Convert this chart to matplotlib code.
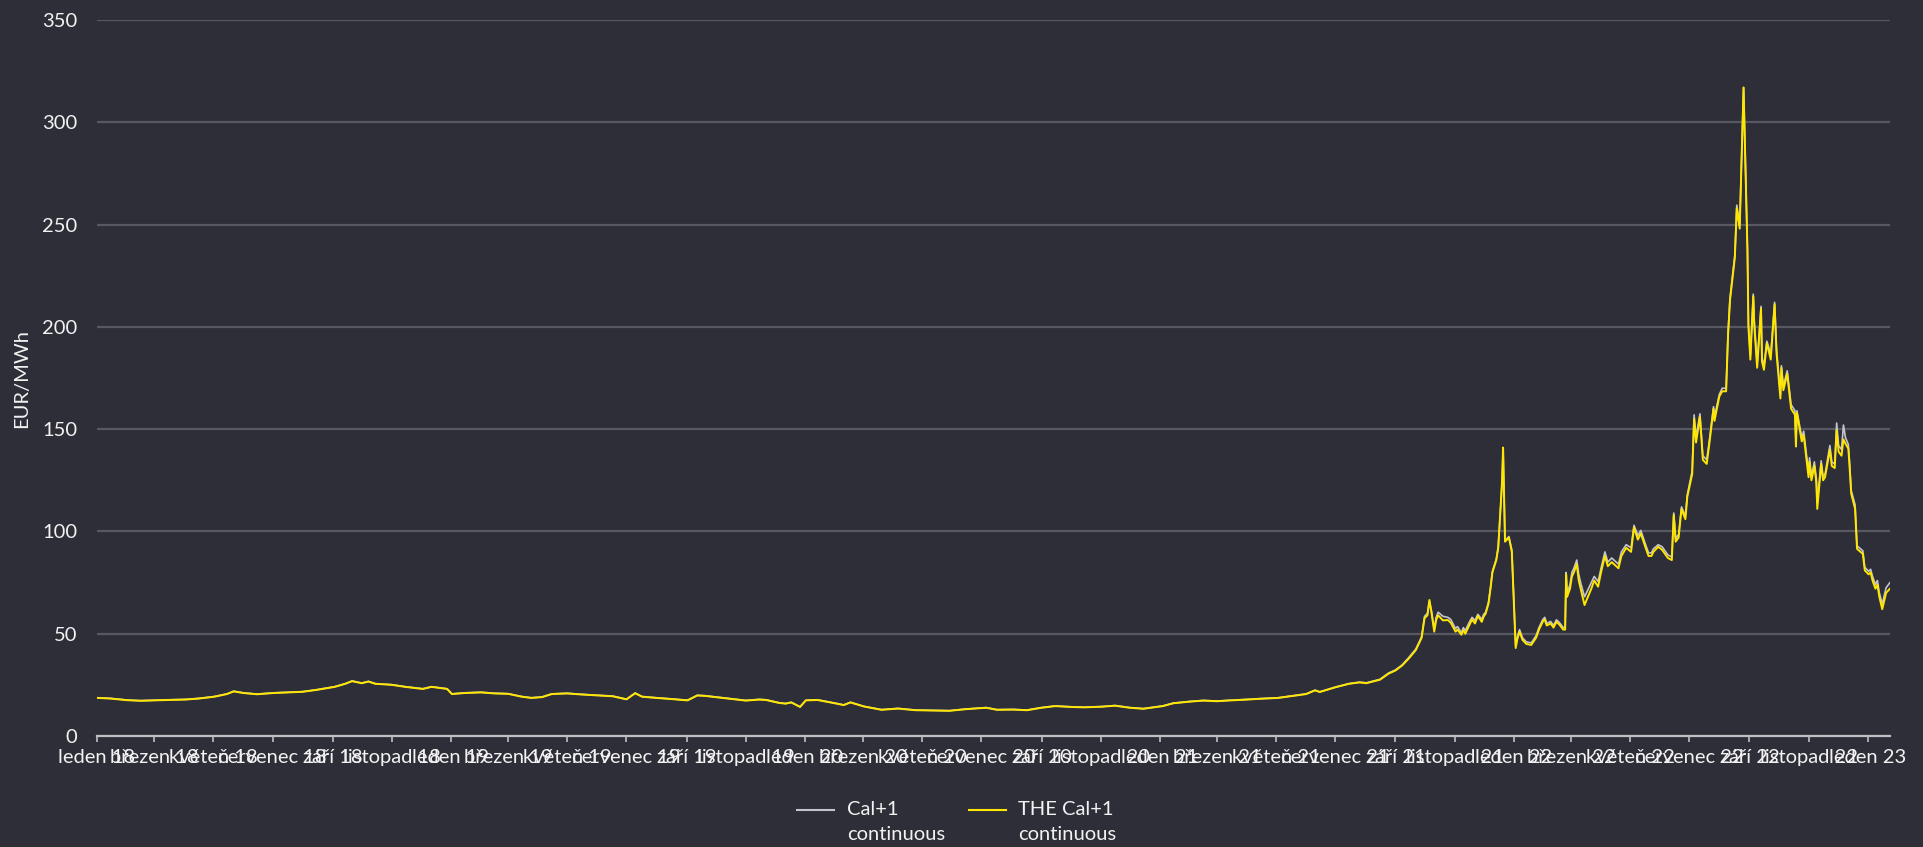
import pandas as pd
import matplotlib.pyplot as plt
import matplotlib.dates as mdates
from matplotlib.lines import Line2D
from matplotlib.ticker import FuncFormatter

plt.rcParams['font.family'] = ['Lato', 'DejaVu Sans']

dates = [
    # 2018
    '2018-01-02', '2018-01-15', '2018-02-01', '2018-02-15', '2018-03-01', '2018-03-15',
    '2018-04-02', '2018-04-16', '2018-05-02', '2018-05-15', '2018-05-22', '2018-06-01',
    '2018-06-15', '2018-07-02', '2018-07-16', '2018-08-01', '2018-08-15', '2018-09-03',
    '2018-09-14', '2018-09-21', '2018-10-01', '2018-10-08', '2018-10-15', '2018-11-01',
    '2018-11-15', '2018-12-03', '2018-12-12', '2018-12-20', '2018-12-28',
    # 2019
    '2019-01-02', '2019-01-15', '2019-02-01', '2019-02-15', '2019-03-01', '2019-03-15',
    '2019-03-25', '2019-04-05', '2019-04-15', '2019-05-01', '2019-05-15', '2019-06-03',
    '2019-06-17', '2019-07-01', '2019-07-10', '2019-07-17', '2019-08-01', '2019-08-15',
    '2019-09-02', '2019-09-12', '2019-09-20', '2019-10-01', '2019-10-11', '2019-11-01',
    '2019-11-15', '2019-11-22', '2019-12-05', '2019-12-12', '2019-12-18', '2019-12-27',
    # 2020
    '2020-01-02', '2020-01-14', '2020-02-03', '2020-02-10', '2020-02-17', '2020-03-02',
    '2020-03-20', '2020-04-06', '2020-04-24', '2020-05-15', '2020-05-29', '2020-06-15',
    '2020-07-06', '2020-07-17', '2020-08-03', '2020-08-17', '2020-09-01', '2020-09-15',
    '2020-10-01', '2020-10-15', '2020-11-02', '2020-11-16', '2020-12-01', '2020-12-15',
    # 2021
    '2021-01-04', '2021-01-15', '2021-02-01', '2021-02-15', '2021-03-01', '2021-03-15',
    '2021-04-01', '2021-04-15', '2021-05-03', '2021-05-17', '2021-06-01', '2021-06-10',
    '2021-06-15', '2021-07-01', '2021-07-15', '2021-07-26', '2021-08-02', '2021-08-16',
    '2021-08-25', '2021-09-01', '2021-09-08', '2021-09-15', '2021-09-22', '2021-09-28',
    '2021-10-01', '2021-10-04', '2021-10-06', '2021-10-08', '2021-10-11', '2021-10-13',
    '2021-10-15', '2021-10-20', '2021-10-25', '2021-10-28', '2021-11-02', '2021-11-04',
    '2021-11-08', '2021-11-10', '2021-11-12', '2021-11-16', '2021-11-19', '2021-11-22',
    '2021-11-25', '2021-11-29', '2021-12-01', '2021-12-03', '2021-12-06', '2021-12-08',
    '2021-12-10', '2021-12-14', '2021-12-16', '2021-12-17', '2021-12-20', '2021-12-21',
    '2021-12-22', '2021-12-23', '2021-12-27', '2021-12-30',
    # 2022
    '2022-01-03', '2022-01-05', '2022-01-07', '2022-01-10', '2022-01-14', '2022-01-19',
    '2022-01-24', '2022-01-27', '2022-01-31', '2022-02-02', '2022-02-04', '2022-02-08',
    '2022-02-11', '2022-02-14', '2022-02-17', '2022-02-21', '2022-02-23', '2022-02-24',
    '2022-02-25', '2022-02-28', '2022-03-02', '2022-03-04', '2022-03-07', '2022-03-09',
    '2022-03-11', '2022-03-15', '2022-03-18', '2022-03-22', '2022-03-25', '2022-03-29',
    '2022-04-01', '2022-04-05', '2022-04-08', '2022-04-12', '2022-04-19', '2022-04-22',
    '2022-04-27', '2022-05-02', '2022-05-05', '2022-05-09', '2022-05-12', '2022-05-17',
    '2022-05-20', '2022-05-23', '2022-05-25', '2022-05-30', '2022-06-03', '2022-06-09',
    '2022-06-13', '2022-06-15', '2022-06-17', '2022-06-20', '2022-06-23', '2022-06-27',
    '2022-06-29', '2022-07-04', '2022-07-06', '2022-07-08', '2022-07-12', '2022-07-15',
    '2022-07-19', '2022-07-22', '2022-07-26', '2022-07-27', '2022-08-01', '2022-08-04',
    '2022-08-08', '2022-08-10', '2022-08-12', '2022-08-17', '2022-08-19', '2022-08-22',
    '2022-08-26', '2022-08-30', '2022-08-31', '2022-09-02', '2022-09-05', '2022-09-06',
    '2022-09-09', '2022-09-13', '2022-09-14', '2022-09-16', '2022-09-19', '2022-09-21',
    '2022-09-23', '2022-09-27', '2022-09-29', '2022-10-03', '2022-10-04', '2022-10-06',
    '2022-10-10', '2022-10-14', '2022-10-18', '2022-10-19', '2022-10-20', '2022-10-25',
    '2022-10-27', '2022-11-01', '2022-11-02', '2022-11-04', '2022-11-07', '2022-11-09',
    '2022-11-10', '2022-11-14', '2022-11-16', '2022-11-18', '2022-11-23', '2022-11-25',
    '2022-11-28', '2022-11-30', '2022-12-02', '2022-12-05', '2022-12-07', '2022-12-09',
    '2022-12-12', '2022-12-13', '2022-12-15', '2022-12-19', '2022-12-21', '2022-12-27',
    '2022-12-29',
    # 2023
    '2023-01-02', '2023-01-04', '2023-01-06', '2023-01-09', '2023-01-11', '2023-01-13',
    '2023-01-16', '2023-01-18', '2023-01-20', '2023-01-24',
]

the_cal1 = [
    # 2018
    18.6, 18.3, 17.5, 17.2, 17.4, 17.6, 17.8, 18.3, 19.2, 20.5, 21.8, 21.0,
    20.4, 21.0, 21.3, 21.6, 22.5, 24.0, 25.5, 26.8, 25.8, 26.6, 25.5, 25.0,
    24.0, 23.0, 24.0, 23.5, 23.0,
    # 2019
    20.5, 21.0, 21.3, 20.8, 20.6, 19.2, 18.6, 19.0, 20.5, 20.8, 20.3, 19.8,
    19.4, 17.9, 20.9, 19.2, 18.6, 18.1, 17.4, 19.8, 19.6, 19.0, 18.4, 17.3,
    17.8, 17.6, 16.2, 15.8, 16.4, 14.2,
    # 2020
    17.4, 17.6, 15.8, 15.1, 16.4, 14.4, 12.8, 13.4, 12.6, 12.4, 12.3, 13.1,
    13.8, 12.8, 12.9, 12.6, 13.8, 14.6, 14.2, 14.0, 14.3, 14.8, 13.8, 13.3,
    # 2021
    14.6, 16.0, 16.8, 17.3, 17.0, 17.4, 17.8, 18.2, 18.6, 19.5, 20.5, 22.3,
    21.5, 23.8, 25.5, 26.2, 25.8, 27.5, 30.5, 32.0, 34.5, 38.0, 42.0, 48.0,
    57.6, 59.0, 66.5, 60.8, 51.0, 56.7, 59.0, 56.5, 56.7, 55.4, 51.0, 52.0,
    49.5, 51.8, 50.0, 54.0, 57.0, 55.0, 58.7, 55.8, 58.4, 59.8, 64.8, 72.0,
    80.0, 86.0, 92.0, 100.0, 125.0, 141.0, 118.0, 95.0, 97.0, 90.0,
    # 2022
    43.0, 48.0, 51.0, 47.0, 45.0, 44.5, 48.0, 52.0, 56.0, 57.0, 54.0, 55.0,
    53.0, 55.8, 54.5, 52.0, 52.0, 79.0, 68.0, 72.0, 78.0, 80.0, 84.0, 76.0,
    72.0, 64.0, 67.5, 72.0, 76.0, 73.0, 80.0, 88.0, 83.0, 85.0, 82.0, 88.0,
    92.0, 90.0, 102.0, 96.0, 99.0, 92.0, 88.0, 88.0, 90.0, 92.5, 91.0, 87.0,
    86.0, 108.0, 95.0, 97.0, 111.0, 106.0, 117.0, 128.0, 155.0, 143.5, 156.0, 135.0,
    133.0, 144.0, 160.0, 154.0, 166.0, 168.5, 168.5, 196.0, 213.0, 234.0, 258.0, 248.0,
    317.0, 237.0, 200.0, 184.0, 215.0, 201.0, 180.0, 209.0, 183.0, 179.0, 192.0, 188.0,
    184.0, 211.0, 187.0, 165.0, 180.0, 169.0, 177.0, 160.0, 157.0, 141.5, 158.0, 144.0,
    147.0, 126.5, 134.0, 125.0, 132.0, 124.0, 111.0, 133.0, 125.0, 126.5, 140.0, 132.0,
    131.0, 149.5, 139.0, 137.0, 145.0, 143.0, 140.5, 134.0, 118.5, 111.0, 91.5, 89.0,
    81.0,
    # 2023
    79.0, 80.0, 76.0, 72.0, 74.0, 68.0, 62.0, 66.0, 70.0, 72.0,
]

cal1 = [
    # 2018
    18.7, 18.4, 17.6, 17.3, 17.5, 17.7, 17.9, 18.4, 19.3, 20.6, 21.9, 21.1,
    20.5, 21.1, 21.4, 21.7, 22.6, 24.1, 25.6, 26.9, 25.9, 26.7, 25.6, 25.1,
    24.1, 23.1, 24.1, 23.6, 23.1,
    # 2019
    20.6, 21.1, 21.4, 20.9, 20.7, 19.3, 18.7, 19.1, 20.6, 20.9, 20.4, 19.9,
    19.5, 18.0, 21.0, 19.3, 18.7, 18.2, 17.5, 19.9, 19.7, 19.1, 18.5, 17.4,
    17.9, 17.7, 16.3, 15.9, 16.5, 14.3,
    # 2020
    17.5, 17.7, 15.9, 15.2, 16.5, 14.5, 12.9, 13.5, 12.7, 12.5, 12.4, 13.2,
    13.9, 12.9, 13.0, 12.7, 13.9, 14.7, 14.3, 14.1, 14.4, 14.9, 13.9, 13.4,
    # 2021
    14.7, 16.1, 16.9, 17.4, 17.1, 17.5, 17.9, 18.3, 18.7, 19.6, 20.6, 22.4,
    21.6, 23.9, 25.6, 26.3, 26.0, 27.7, 30.8, 32.3, 34.8, 38.5, 42.5, 48.5,
    58.5, 60.0, 66.0, 61.5, 52.5, 58.0, 60.5, 58.5, 58.0, 57.0, 52.5, 53.5,
    50.5, 53.0, 51.5, 55.5, 58.0, 56.5, 59.5, 57.0, 59.5, 60.5, 65.5, 72.5,
    80.5, 86.5, 92.5, 100.5, 124.0, 140.0, 117.0, 95.5, 97.5, 91.0,
    # 2022
    44.0, 49.0, 52.0, 48.0, 46.0, 45.5, 49.0, 53.0, 57.0, 58.0, 55.0, 56.0,
    54.0, 56.8, 55.5, 53.0, 53.0, 80.0, 70.0, 74.0, 80.0, 82.0, 86.0, 79.0,
    75.0, 68.0, 71.0, 75.0, 78.0, 75.5, 82.0, 90.0, 85.0, 87.0, 84.0, 90.0,
    93.5, 92.0, 103.0, 98.0, 100.5, 93.5, 89.5, 89.5, 91.5, 93.5, 92.5, 88.5,
    87.5, 109.0, 96.5, 98.5, 112.0, 107.5, 118.0, 129.5, 157.0, 146.0, 157.5, 137.0,
    135.0, 145.5, 161.0, 156.0, 167.0, 170.0, 170.0, 197.0, 214.0, 235.0, 259.5, 250.0,
    317.0, 238.0, 202.0, 186.0, 216.0, 203.0, 182.0, 210.0, 185.0, 181.0, 193.0, 190.0,
    186.0, 212.0, 189.0, 167.0, 181.0, 171.0, 178.5, 162.0, 159.0, 144.0, 159.0, 146.0,
    149.0, 129.0, 136.0, 127.0, 134.0, 126.0, 114.0, 134.5, 127.0, 128.0, 142.0, 134.0,
    133.0, 153.0, 142.0, 140.0, 152.0, 146.0, 142.5, 136.0, 120.0, 113.0, 93.0, 90.5,
    82.5,
    # 2023
    80.5, 81.5, 78.0, 74.0, 76.0, 70.0, 64.5, 68.5, 72.5, 75.0,
]

month_names = ['leden', 'únor', 'březen', 'duben', 'květen', 'červen',
               'červenec', 'srpen', 'září', 'říjen', 'listopad', 'prosinec']

series_labels = ['Cal+1\ncontinuous', 'THE Cal+1\ncontinuous']

BG = '#2E2E38'
TXT = '#F2F2F2'
GREY = '#C4C4CD'
YELLOW = '#FFE600'

x = pd.to_datetime(dates)

fig = plt.figure(figsize=(19.23, 8.47), dpi=100)
fig.patch.set_facecolor(BG)
ax = fig.add_axes([97 / 1923, 1 - 736 / 847, (1890 - 97) / 1923, (736 - 20) / 847])
ax.set_facecolor(BG)

ax.plot(x, cal1, color=GREY, lw=1.2, zorder=3)
ax.plot(x, the_cal1, color=YELLOW, lw=1.4, zorder=4)

ax.set_ylim(0, 350)
ax.set_yticks(range(0, 351, 50))
ax.set_xlim(pd.Timestamp('2018-01-01'), pd.Timestamp('2023-01-24'))

ax.xaxis.set_major_locator(mdates.MonthLocator(bymonth=[1, 3, 5, 7, 9, 11]))


def fmt(v, pos):
    d = mdates.num2date(v)
    return f'{month_names[d.month - 1]} {d.year % 100:02d}'


ax.xaxis.set_major_formatter(FuncFormatter(fmt))

ax.yaxis.grid(True, color='#585862', lw=1.6)
ax.set_axisbelow(True)
for s in ['left', 'right', 'top']:
    ax.spines[s].set_visible(False)
ax.spines['bottom'].set_color('#BFBFC4')
ax.spines['bottom'].set_linewidth(1.6)
ax.spines['bottom'].set_zorder(5)

ax.tick_params(axis='y', length=0, pad=14, labelsize=14.5, labelcolor=TXT)
ax.tick_params(axis='x', length=4.5, width=1.2, color='#BFBFC4', pad=5,
               labelsize=14.5, labelcolor=TXT)

fig.text(22 / 1923, 1 - 378 / 847, 'EUR/MWh', rotation=90, ha='center', va='center',
         fontsize=14.5, color=TXT)

# legend at the bottom
leg_y = 1 - 810 / 847
fig.add_artist(Line2D([797 / 1923, 834 / 1923], [leg_y, leg_y], color=GREY, lw=1.5))
fig.add_artist(Line2D([969 / 1923, 1006 / 1923], [leg_y, leg_y], color=YELLOW, lw=1.5))
fig.text(847 / 1923, 1 - 801 / 847, series_labels[0], ha='left', va='top',
         fontsize=14.5, color=TXT, linespacing=1.6)
fig.text(1018 / 1923, 1 - 801 / 847, series_labels[1], ha='left', va='top',
         fontsize=14.5, color=TXT, linespacing=1.6)

fig.savefig('out.png', dpi=100, facecolor=BG)
